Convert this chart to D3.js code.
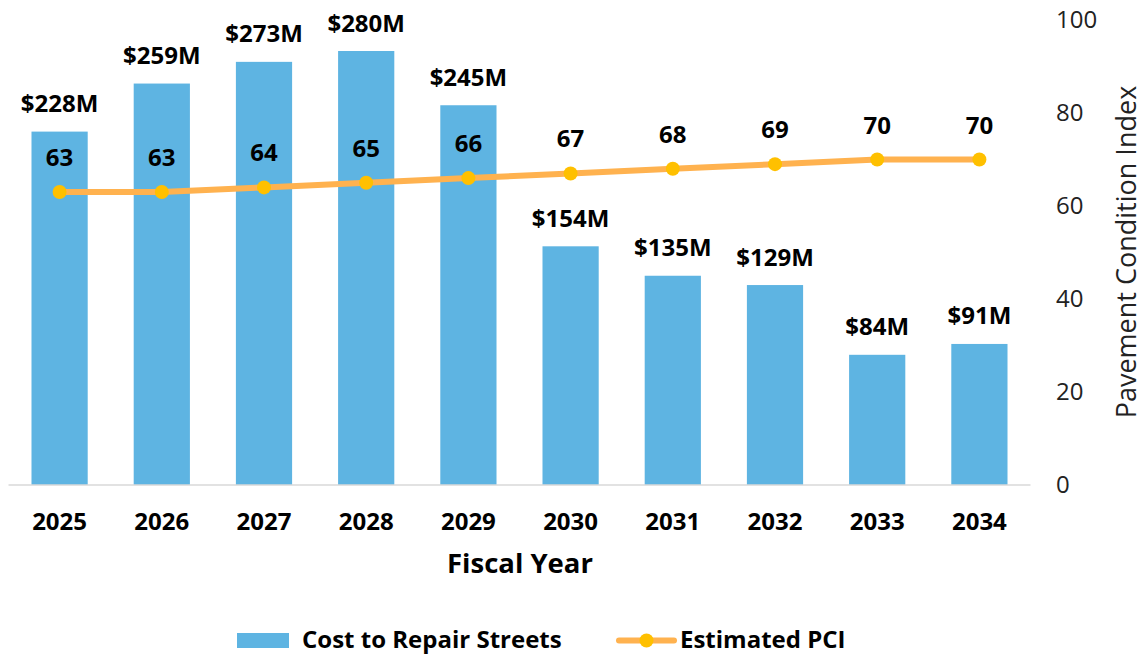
<!DOCTYPE html>
<html>
<head>
<meta charset="utf-8">
<script src="https://cdn.jsdelivr.net/npm/d3@7"></script>
<style>
  body { margin: 0; background: #fff; }
  svg text { font-family: 'Open Sans', sans-serif; }
</style>
</head>
<body>
<div id="chart"></div>
<script>
const years = ['2025', '2026', '2027', '2028', '2029', '2030', '2031', '2032', '2033', '2034']
const costs = [228, 259, 273, 280, 245, 154, 135, 129, 84, 91]
const pci = [63, 63, 64, 65, 66, 67, 68, 69, 70, 70]
const pciTicks = [0, 20, 40, 60, 80, 100]

const width = 1143
const height = 656

const svg = d3.select('#chart').append('svg')
  .attr('width', width)
  .attr('height', height)

const x = d3.scaleBand()
  .domain(years)
  .range([8.5, 1030.5])
  .paddingInner(0.45)
  .paddingOuter(0.225)

const yCost = d3.scaleLinear().domain([0, 300]).range([485, 20])
const yPci = d3.scaleLinear().domain([0, 100]).range([485, 20])

// bars
svg.append('g')
  .selectAll('rect')
  .data(costs)
  .enter()
  .append('rect')
  .attr('x', (d, i) => x(years[i]))
  .attr('y', d => yCost(d))
  .attr('width', x.bandwidth())
  .attr('height', d => yCost(0) - yCost(d))
  .attr('fill', '#5EB4E2')

// baseline
svg.append('line')
  .attr('x1', x.range()[0]).attr('x2', x.range()[1])
  .attr('y1', yCost(0)).attr('y2', yCost(0))
  .attr('stroke', '#d9d9d9')
  .attr('stroke-width', 1.5)

// bar labels
svg.append('g')
  .selectAll('text')
  .data(costs)
  .enter()
  .append('text')
  .attr('x', (d, i) => x(years[i]) + x.bandwidth() / 2)
  .attr('y', d => yCost(d) - 19.5)
  .attr('text-anchor', 'middle')
  .style('font-size', '24px')
  .style('font-weight', 700)
  .text(d => '$' + d + 'M')

// PCI line
const cx = (d, i) => x(years[i]) + x.bandwidth() / 2
const line = d3.line()
  .x(cx)
  .y(d => yPci(d))

svg.append('path')
  .datum(pci)
  .attr('d', line)
  .attr('fill', 'none')
  .attr('stroke', '#FFB24F')
  .attr('stroke-width', 6)
  .attr('stroke-linejoin', 'round')

svg.append('g')
  .selectAll('circle')
  .data(pci)
  .enter()
  .append('circle')
  .attr('cx', cx)
  .attr('cy', d => yPci(d))
  .attr('r', 7)
  .attr('fill', '#FFC000')

svg.append('g')
  .selectAll('text')
  .data(pci)
  .enter()
  .append('text')
  .attr('x', cx)
  .attr('y', d => yPci(d) - 26)
  .attr('text-anchor', 'middle')
  .style('font-size', '24px')
  .style('font-weight', 700)
  .text(d => d)

// right axis
const axis = svg.append('g')
  .attr('transform', 'translate(1050,0)')
  .call(d3.axisRight(yPci).tickValues(pciTicks).tickSize(0).tickPadding(6))
axis.select('.domain').remove()
axis.selectAll('text')
  .style('font-family', "'Open Sans', sans-serif")
  .style('font-size', '24px')
  .attr('fill', '#222')

svg.append('text')
  .attr('transform', 'translate(1136,252) rotate(-90)')
  .attr('text-anchor', 'middle')
  .style('font-size', '27px')
  .attr('fill', '#222')
  .text('Pavement Condition Index')

// x labels
svg.append('g')
  .selectAll('text')
  .data(years)
  .enter()
  .append('text')
  .attr('x', d => x(d) + x.bandwidth() / 2)
  .attr('y', 529.5)
  .attr('text-anchor', 'middle')
  .style('font-size', '24px')
  .style('font-weight', 700)
  .text(d => d)

svg.append('text')
  .attr('x', 520)
  .attr('y', 573)
  .attr('text-anchor', 'middle')
  .style('font-size', '27.5px')
  .style('font-weight', 700)
  .text('Fiscal Year')

// legend
const legend = svg.append('g')
legend.append('rect')
  .attr('x', 237).attr('y', 633)
  .attr('width', 52).attr('height', 15)
  .attr('fill', '#5EB4E2')
legend.append('text')
  .attr('x', 302).attr('y', 647.5)
  .style('font-size', '24px')
  .style('font-weight', 700)
  .text('Cost to Repair Streets')
legend.append('line')
  .attr('x1', 619).attr('x2', 674)
  .attr('y1', 640.5).attr('y2', 640.5)
  .attr('stroke', '#FFB24F')
  .attr('stroke-width', 6)
  .attr('stroke-linecap', 'round')
legend.append('circle')
  .attr('cx', 646.5).attr('cy', 640.5).attr('r', 7)
  .attr('fill', '#FFC000')
legend.append('text')
  .attr('x', 680).attr('y', 647.5)
  .style('font-size', '24px')
  .style('font-weight', 700)
  .text('Estimated PCI')
</script>
</body>
</html>
